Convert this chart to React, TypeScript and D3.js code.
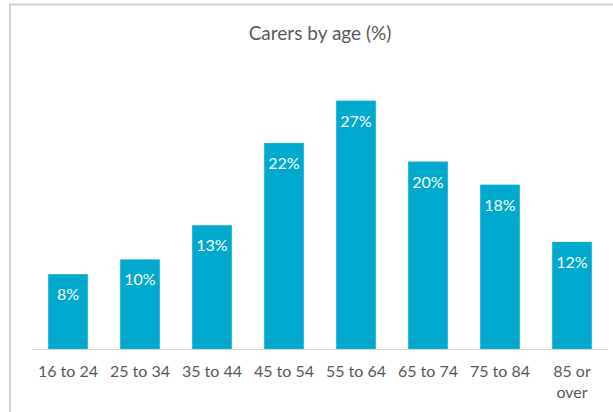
import React from "react";
import * as d3 from "d3";

const categories: string[][] = [
  ["16 to 24"],
  ["25 to 34"],
  ["35 to 44"],
  ["45 to 54"],
  ["55 to 64"],
  ["65 to 74"],
  ["75 to 84"],
  ["85 or", "over"],
];
const values: number[] = [8.1, 9.7, 13.4, 22.3, 26.9, 20.3, 17.8, 11.6];
const title = "Carers by age (%)";

const W = 613;
const H = 412;
const FONT = "Lato, 'Open Sans', sans-serif";

export default function App() {
  const x = d3
    .scaleBand<number>()
    .domain(values.map((_, i) => i))
    .range([32, 608])
    .paddingInner(0.45)
    .paddingOuter(0.225);
  const y = d3.scaleLinear().domain([0, 30]).range([349, 72]);
  const bw = x.bandwidth();

  return (
    <svg
      width={W}
      height={H}
      style={{ position: "absolute", left: 0, top: 0, background: "#fff" }}
      fontFamily={FONT}
    >
      <rect x={0} y={0} width={W} height={H} fill="#fff" />
      <path d={`M10,${H + 5} V4.5 H${W + 5}`} fill="none" stroke="#cfcfcf" strokeWidth={2} />
      <text x={320} y={40} textAnchor="middle" fontSize={19} fill="#595959">
        {title}
      </text>
      {values.map((v, i) => (
        <g key={i}>
          <rect
            x={x(i)!}
            y={y(v)}
            width={bw}
            height={y(0) - y(v)}
            fill="#00a9ce"
          />
          <text
            x={x(i)! + bw / 2}
            y={y(v) + 26}
            textAnchor="middle"
            fontSize={16}
            fill="#ffffff"
          >
            {`${Math.round(v)}%`}
          </text>
        </g>
      ))}
      <line x1={32} x2={608} y1={y(0) + 0.5} y2={y(0) + 0.5} stroke="#d9d9d9" strokeWidth={1} />
      {categories.map((lines, i) => (
        <text
          key={i}
          x={x(i)! + bw / 2}
          y={377}
          textAnchor="middle"
          fontSize={16}
          fill="#595959"
        >
          {lines.map((l, j) => (
            <tspan key={j} x={x(i)! + bw / 2} dy={j === 0 ? 0 : 21}>
              {l}
            </tspan>
          ))}
        </text>
      ))}
    </svg>
  );
}
